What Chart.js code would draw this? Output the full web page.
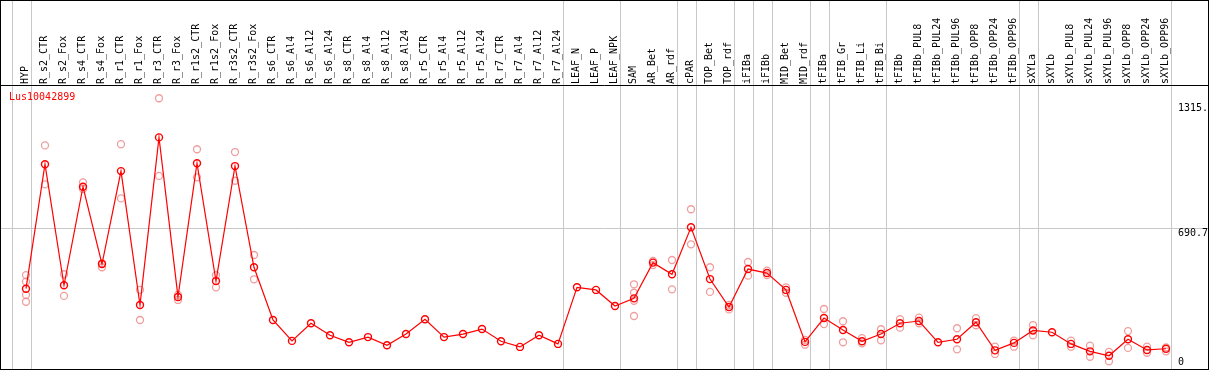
<!DOCTYPE html>
<html>
<head>
<meta charset="utf-8">
<script src="https://cdn.jsdelivr.net/npm/chart.js@4.4.0/dist/chart.umd.min.js"></script>
<style>
  body { margin: 0; background: #fff; }
  #wrap { width: 1209px; height: 370px; }
</style>
</head>
<body>
<div id="wrap"><canvas id="geneChart" width="1209" height="370"></canvas></div>
<script>
const geneName = "Lus10042899";

const categories = [
    "HYP", "R_s2_CTR", "R_s2_Fox", "R_s4_CTR", "R_s4_Fox", "R_r1_CTR", "R_r1_Fox", "R_r3_CTR", "R_r3_Fox",
    "R_r1s2_CTR", "R_r1s2_Fox", "R_r3s2_CTR", "R_r3s2_Fox", "R_s6_CTR", "R_s6_Al4", "R_s6_Al12", "R_s6_Al24",
    "R_s8_CTR", "R_s8_Al4", "R_s8_Al12", "R_s8_Al24", "R_r5_CTR", "R_r5_Al4", "R_r5_Al12", "R_r5_Al24",
    "R_r7_CTR", "R_r7_Al4", "R_r7_Al12", "R_r7_Al24", "LEAF_N", "LEAF_P", "LEAF_NPK", "SAM", "AR_Bet", "AR_rdf",
    "cPAR", "TOP_Bet", "TOP_rdf", "iFIBa", "iFIBb", "MID_Bet", "MID_rdf", "tFIBa", "tFIB_Gr", "tFIB_Li", "tFIB_Bi",
    "tFIBb", "tFIBb_PUL8", "tFIBb_PUL24", "tFIBb_PUL96", "tFIBb_OPP8", "tFIBb_OPP24", "tFIBb_OPP96",
    "sXYLa", "sXYLb", "sXYLb_PUL8", "sXYLb_PUL24", "sXYLb_PUL96", "sXYLb_OPP8", "sXYLb_OPP24", "sXYLb_OPP96"
];

// mean expression per sample
const meanValues = [
    390, 1010, 407, 898, 513, 976, 309, 1144, 349,
    1015, 428, 1001, 497, 234, 130, 218, 158,
    123, 149, 108, 164, 238, 149, 164, 189,
    128, 100, 158, 115, 397, 384, 304, 342, 520, 462,
    696, 438, 299, 488, 468, 384, 125, 244, 184, 128, 164,
    218, 229, 123, 138, 223, 83, 120,
    182, 173, 115, 78, 56, 138, 85, 91
];

// individual replicates per sample (empty = none shown)
const replicateValues = [
    [458, 425, 359, 325], [1104, 910], [462, 354], [920, 887], [517, 497], [1110, 840], [384, 234], [1339, 952], [359, 334],
    [1085, 945], [458, 397], [1071, 928], [558, 437], [], [], [], [],
    [], [], [], [], [], [], [], [],
    [], [], [], [], [], [], [], [412, 370, 330, 254], [528, 508], [533, 387],
    [786, 611], [497, 374], [309, 287], [523, 455], [480, 458], [397, 370], [135, 111], [289, 214], [228, 123], [144, 118], [188, 133],
    [238, 196], [246, 218], [], [193, 88], [243, 208], [101, 65], [131, 101],
    [209, 158], [], [131, 101], [106, 51], [75, 28], [179, 95], [101, 71], [98, 78]
];

const yTickValues = [0, 690.7, 1315];
const yTickLabels = ["0", "690.7", "1315."];
const gridValue = 690.7;

// group separators drawn after these sample indexes (-1 = before the first)
const groupEnds = [-1, 0, 28, 31, 34, 35, 37, 38, 39, 41, 42, 45, 52, 53, 60];

const monoFont = '"DejaVu Sans Mono", "Liberation Mono", monospace';

const meanPoints = meanValues.map((v, i) => ({ x: i, y: v }));
const repPoints = [];
replicateValues.forEach((list, i) => list.forEach(v => repPoints.push({ x: i, y: v })));

// separators, grid line, frame, title and right-hand value labels
const framePlugin = {
    id: "frame",
    beforeDatasetsDraw(chart) {
        const { ctx, scales: { x, y } } = chart;
        ctx.save();
        ctx.strokeStyle = "#c8c8c8";
        ctx.lineWidth = 1;
        groupEnds.forEach(k => {
            const px = Math.round(x.getPixelForValue(k + 0.25)) + 0.5;
            ctx.beginPath();
            ctx.moveTo(px, 0);
            ctx.lineTo(px, chart.height);
            ctx.stroke();
        });
        const gy = Math.round(y.getPixelForValue(gridValue)) + 0.5;
        ctx.beginPath();
        ctx.moveTo(0, gy);
        ctx.lineTo(chart.width, gy);
        ctx.stroke();
        ctx.restore();
    },
    afterDraw(chart) {
        const { ctx, chartArea, scales: { y } } = chart;
        ctx.save();
        ctx.strokeStyle = "#000";
        ctx.lineWidth = 1;
        ctx.strokeRect(0.5, 0.5, chart.width - 1, chart.height - 1);
        ctx.beginPath();
        ctx.moveTo(0, chartArea.top + 0.5);
        ctx.lineTo(chart.width, chartArea.top + 0.5);
        ctx.stroke();

        ctx.font = "10px " + monoFont;
        ctx.textBaseline = "top";
        ctx.textAlign = "left";
        ctx.fillStyle = "#ff0000";
        ctx.fillText(geneName, 9, chartArea.top + 7);

        ctx.fillStyle = "#000";
        yTickValues.forEach((v, i) => {
            const py = Math.min(y.getPixelForValue(v), chartArea.bottom - 13);
            ctx.fillText(yTickLabels[i], chartArea.right - 31, py);
        });
        ctx.restore();
    }
};

const ctx = document.getElementById("geneChart").getContext("2d");
const geneChart = new Chart(ctx, {
    type: "line",
    data: {
        datasets: [{
            label: "mean",
            data: meanPoints,
            borderColor: "#ff0000",
            borderWidth: 1.2,
            pointRadius: 3.5,
            pointBorderWidth: 1.4,
            pointBorderColor: "#ff0000",
            pointBackgroundColor: "rgba(0,0,0,0)",
            tension: 0,
            order: 0
        }, {
            label: "replicates",
            data: repPoints,
            showLine: false,
            pointRadius: 3.5,
            pointBorderWidth: 1.3,
            pointBorderColor: "rgba(236, 140, 140, 0.85)",
            pointBackgroundColor: "rgba(0,0,0,0)",
            order: 1
        }]
    },
    options: {
        responsive: false,
        animation: false,
        devicePixelRatio: 1,
        layout: { padding: 0, autoPadding: false },
        plugins: {
            legend: { display: false },
            tooltip: { enabled: false }
        },
        scales: {
            x: {
                type: "linear",
                position: "top",
                min: -1.368,
                max: 62.263,
                grid: { display: false, drawTicks: false },
                border: { display: false },
                afterBuildTicks: scale => {
                    scale.ticks = categories.map((c, i) => ({ value: i }));
                },
                afterFit: scale => {
                    scale.height = 85;
                    scale.paddingLeft = 0;
                    scale.paddingRight = 0;
                },
                ticks: {
                    autoSkip: false,
                    minRotation: 90,
                    maxRotation: 90,
                    padding: 1,
                    labelOffset: 11,
                    color: "#000",
                    font: { family: monoFont, size: 10 },
                    callback: value => categories[value]
                }
            },
            y: {
                display: false,
                min: -15,
                max: 1405
            }
        }
    },
    plugins: [framePlugin]
});
</script>
</body>
</html>
